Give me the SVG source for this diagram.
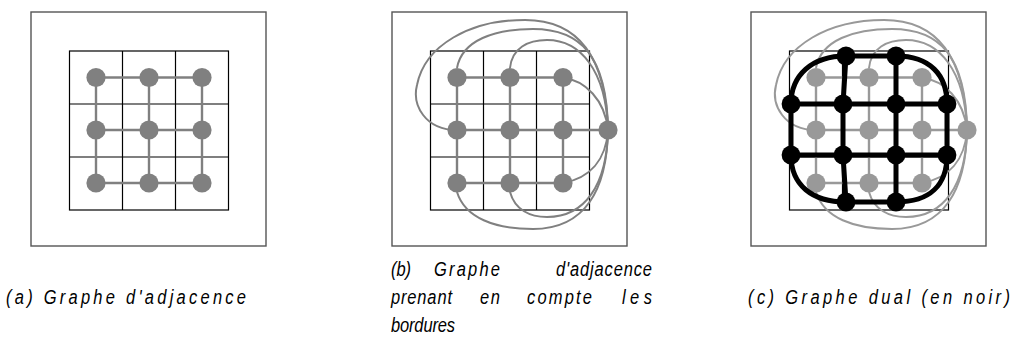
<svg xmlns="http://www.w3.org/2000/svg" width="1015" height="364" viewBox="0 0 1015 364">
<style>
.frame{fill:none;stroke:#555;stroke-width:1.4}
.grid{fill:none;stroke:#000;stroke-width:1.2}
.ga line{stroke:#808080;stroke-width:2.4}
.ga path{fill:none;stroke:#808080;stroke-width:2}
.gc line{stroke:#999;stroke-width:2.4}
.gc path{fill:none;stroke:#999;stroke-width:2}
.n{fill:#808080}
.nl{fill:#999}
.nb{fill:#000}
.bk line,.bk path{fill:none;stroke:#000;stroke-width:5;stroke-linecap:round}
.cap{font-family:"Liberation Sans",Arial,sans-serif;font-style:italic;font-size:16.5px;fill:#000}
</style>

<!-- panel a -->
<g id="panel-a">
<rect class="frame" x="31" y="12" width="235" height="234"/>
<g class="grid"><rect x="69.5" y="51" width="159" height="159"/><line x1="122.5" y1="51" x2="122.5" y2="210"/><line x1="175.5" y1="51" x2="175.5" y2="210"/><line x1="69.5" y1="104" x2="228.5" y2="104"/><line x1="69.5" y1="157" x2="228.5" y2="157"/></g>
</g>
<g id="edges-a" class="ga">
<line x1="96" y1="77.5" x2="202" y2="77.5"/><line x1="96" y1="130" x2="202" y2="130"/><line x1="96" y1="183" x2="202" y2="183"/>
<line x1="96" y1="77.5" x2="96" y2="183"/><line x1="149" y1="77.5" x2="149" y2="183"/><line x1="202" y1="77.5" x2="202" y2="183"/>
</g>
<g id="nodes-a" class="n">
<circle id="a11" cx="96" cy="77.5" r="9.6"/><circle id="a12" cx="149" cy="77.5" r="9.6"/><circle id="a13" cx="202" cy="77.5" r="9.6"/>
<circle id="a21" cx="96" cy="130" r="9.6"/><circle id="a22" cx="149" cy="130" r="9.6"/><circle id="a23" cx="202" cy="130" r="9.6"/>
<circle id="a31" cx="96" cy="183" r="9.6"/><circle id="a32" cx="149" cy="183" r="9.6"/><circle id="a33" cx="202" cy="183" r="9.6"/>
</g>

<!-- panel b -->
<g id="panel-b">
<rect class="frame" x="392" y="12" width="235" height="234"/>
<g class="grid"><rect x="430.5" y="51" width="159" height="159"/><line x1="483.5" y1="51" x2="483.5" y2="210"/><line x1="536.5" y1="51" x2="536.5" y2="210"/><line x1="430.5" y1="104" x2="589.5" y2="104"/><line x1="430.5" y1="157" x2="589.5" y2="157"/></g>
</g>
<g id="edges-b" class="ga">
<line x1="457" y1="77.5" x2="563" y2="77.5"/><line x1="457" y1="130" x2="608" y2="130"/><line x1="457" y1="183" x2="563" y2="183"/>
<line x1="457" y1="77.5" x2="457" y2="183"/><line x1="510" y1="77.5" x2="510" y2="183"/><line x1="563" y1="77.5" x2="563" y2="183"/>
<path d="M457,130 C425,130 412,105 417,85 C425,45 470,20 525,20 C580,20 606,60 608,130"/>
<path d="M457,68 C462,40 495,29 533,29 C580,29 607,55 608,130"/>
<path d="M510,68 C512,48 528,40 547,40 C580,40 606,70 608,130"/>
<path d="M563,78 C585,80 605,100 608,130"/>
<path d="M563,183 C590,178 606,160 608,130"/>
<path d="M510,192 C515,210 530,217 547,217 C585,217 607,185 608,130"/>
<path d="M457,192 C465,218 495,229 533,229 C585,229 607,190 608,130"/>
</g>
<g id="nodes-b" class="n">
<circle id="b11" cx="457" cy="77.5" r="9.6"/><circle id="b12" cx="510" cy="77.5" r="9.6"/><circle id="b13" cx="563" cy="77.5" r="9.6"/>
<circle id="b21" cx="457" cy="130" r="9.6"/><circle id="b22" cx="510" cy="130" r="9.6"/><circle id="b23" cx="563" cy="130" r="9.6"/>
<circle id="b31" cx="457" cy="183" r="9.6"/><circle id="b32" cx="510" cy="183" r="9.6"/><circle id="b33" cx="563" cy="183" r="9.6"/>
<circle id="bext" cx="608" cy="130" r="9.6"/>
</g>

<!-- panel c -->
<g id="panel-c">
<rect class="frame" x="751" y="12" width="235" height="234"/>
<g class="grid"><rect x="789.5" y="51" width="159" height="159"/><line x1="842.5" y1="51" x2="842.5" y2="210"/><line x1="895.5" y1="51" x2="895.5" y2="210"/><line x1="789.5" y1="104" x2="948.5" y2="104"/><line x1="789.5" y1="157" x2="948.5" y2="157"/></g>
</g>
<g id="edges-c" class="gc">
<line x1="816" y1="77.5" x2="922" y2="77.5"/><line x1="816" y1="130" x2="967" y2="130"/><line x1="816" y1="183" x2="922" y2="183"/>
<line x1="816" y1="77.5" x2="816" y2="183"/><line x1="869" y1="77.5" x2="869" y2="183"/><line x1="922" y1="77.5" x2="922" y2="183"/>
<path d="M816,130 C784,130 771,105 776,85 C784,45 829,20 884,20 C939,20 965,60 967,130"/>
<path d="M816,68 C821,40 854,29 892,29 C939,29 966,55 967,130"/>
<path d="M869,68 C871,48 887,40 906,40 C939,40 965,70 967,130"/>
<path d="M922,78 C944,80 964,100 967,130"/>
<path d="M922,183 C949,178 965,160 967,130"/>
<path d="M869,192 C874,210 889,217 906,217 C944,217 966,185 967,130"/>
<path d="M816,192 C824,218 854,229 892,229 C944,229 966,190 967,130"/>
</g>
<g id="nodes-c" class="nl">
<circle id="c11" cx="816" cy="77.5" r="9.6"/><circle id="c12" cx="869" cy="77.5" r="9.6"/><circle id="c13" cx="922" cy="77.5" r="9.6"/>
<circle id="c21" cx="816" cy="130" r="9.6"/><circle id="c22" cx="869" cy="130" r="9.6"/><circle id="c23" cx="922" cy="130" r="9.6"/>
<circle id="c31" cx="816" cy="183" r="9.6"/><circle id="c32" cx="869" cy="183" r="9.6"/><circle id="c33" cx="922" cy="183" r="9.6"/>
<circle id="cext" cx="967" cy="130" r="9.6"/>
</g>
<g id="dual-edges" class="bk">
<line x1="846" y1="56" x2="896" y2="56"/>
<line x1="791" y1="104" x2="947" y2="104"/>
<line x1="791" y1="155" x2="947" y2="155"/>
<line x1="846" y1="202" x2="896" y2="202"/>
<line x1="791" y1="104" x2="791" y2="155"/><line x1="843" y1="104" x2="843" y2="155"/><line x1="896" y1="104" x2="896" y2="155"/><line x1="947" y1="104" x2="947" y2="155"/>
<line x1="846" y1="56" x2="843" y2="104"/><line x1="896" y1="56" x2="896" y2="104"/>
<line x1="843" y1="155" x2="846" y2="202"/><line x1="896" y1="155" x2="896" y2="202"/>
<path d="M846,56 C812,56 791,75 791,104"/>
<path d="M896,56 C930,56 947,75 947,104"/>
<path d="M791,155 C791,185 812,202 846,202"/>
<path d="M947,155 C947,185 930,202 896,202"/>
</g>
<g id="dual-nodes" class="nb">
<circle id="d1" cx="846" cy="56" r="9.4"/><circle id="d2" cx="896" cy="56" r="9.4"/>
<circle id="d3" cx="791" cy="104" r="9.4"/><circle id="d4" cx="843" cy="104" r="9.4"/><circle id="d5" cx="896" cy="104" r="9.4"/><circle id="d6" cx="947" cy="104" r="9.4"/>
<circle id="d7" cx="791" cy="155" r="9.4"/><circle id="d8" cx="843" cy="155" r="9.4"/><circle id="d9" cx="896" cy="155" r="9.4"/><circle id="d10" cx="947" cy="155" r="9.4"/>
<circle id="d11" cx="846" cy="202" r="9.4"/><circle id="d12" cx="896" cy="202" r="9.4"/>
</g>

<!-- captions -->
<g id="captions">
<text class="cap" transform="translate(6,304) scale(1,1.25)" textLength="240" lengthAdjust="spacing">(a) Graphe d'adjacence</text>
<text class="cap" transform="translate(391,276) scale(1,1.25)" textLength="20" lengthAdjust="spacing">(b)</text>
<text class="cap" transform="translate(434,276) scale(1,1.25)" textLength="66" lengthAdjust="spacing">Graphe</text>
<text class="cap" transform="translate(556,276) scale(1,1.25)" textLength="96" lengthAdjust="spacing">d'adjacence</text>
<text class="cap" transform="translate(391,304) scale(1,1.25)" textLength="61" lengthAdjust="spacing">prenant</text>
<text class="cap" transform="translate(480,304) scale(1,1.25)" textLength="20" lengthAdjust="spacing">en</text>
<text class="cap" transform="translate(527,304) scale(1,1.25)" textLength="65" lengthAdjust="spacing">compte</text>
<text class="cap" transform="translate(622,304) scale(1,1.25)" textLength="30" lengthAdjust="spacing">les</text>
<text class="cap" transform="translate(391,332) scale(1,1.25)" textLength="64" lengthAdjust="spacing">bordures</text>
<text class="cap" transform="translate(748,304) scale(1,1.25)" textLength="262" lengthAdjust="spacing">(c) Graphe dual (en noir)</text>
</g>
</svg>
